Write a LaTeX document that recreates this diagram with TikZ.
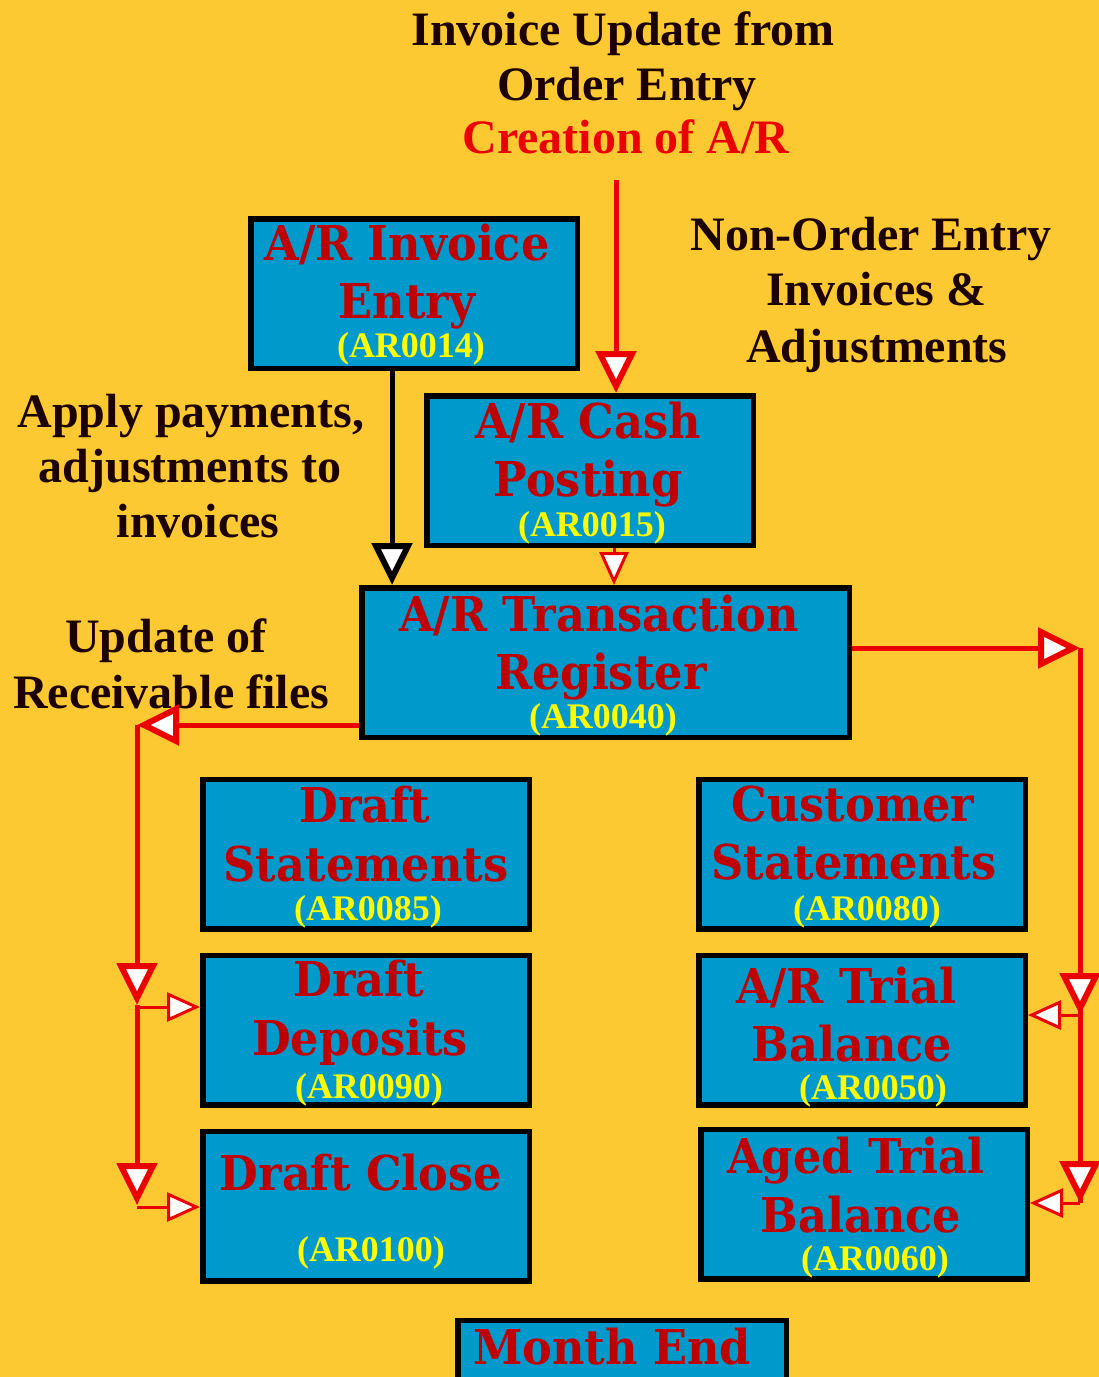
\documentclass[tikz,border=0pt]{standalone}
\usepackage{fontspec}
\setmainfont{Liberation Serif}
\newfontfamily\boxfont[FakeStretch=0.93]{DejaVu Serif}
\usetikzlibrary{arrows.meta}
\definecolor{bgyel}{RGB}{253,201,50}
\definecolor{boxblue}{RGB}{0,153,204}
\definecolor{titlered}{RGB}{190,0,0}
\definecolor{codeyel}{RGB}{255,255,0}
\definecolor{linered}{RGB}{235,0,0}
\definecolor{labelblk}{RGB}{28,0,0}
\tikzset{
  box/.style={draw=black, line width=5.5pt, fill=boxblue, rectangle, inner sep=0pt,
    minimum width=326.5pt, minimum height=149.5pt},
  ttl/.style={anchor=base, inner sep=0pt, text=titlered, font=\boxfont\bfseries\fontsize{48}{58}\selectfont},
  code/.style={anchor=base, inner sep=0pt, text=codeyel, font=\bfseries\fontsize{36}{40}\selectfont},
  lbl/.style={anchor=base, inner sep=0pt, text=labelblk, font=\bfseries\fontsize{48}{56}\selectfont},
  redlbl/.style={lbl, text=linered},
  bigred/.style={draw=linered, line width=5pt,
    -{Triangle[length=42pt, width=40pt, fill=white, line width=6pt]}},
  bigblack/.style={draw=black, line width=5pt,
    -{Triangle[length=42pt, width=40pt, fill=white, line width=6pt]}},
  smallred/.style={draw=linered, line width=3pt,
    -{Triangle[length=33pt, width=29pt, fill=white, line width=3pt]}},
  plainred/.style={draw=linered, line width=5pt},
}
\begin{document}
\begin{tikzpicture}[x=1pt,y=-1pt]
\useasboundingbox (0,0) rectangle (1099,1377);
\clip (0,0) rectangle (1099,1377);
\fill[bgyel] (0,0) rectangle (1099,1377);

% boxes
\node[box] (IE) at (414,293.5) {};
\node[box] (CP) at (590,470.5) {};
\node[box, minimum width=487.5pt] (TR) at (605.5,662.5) {};
\node[box] (DS) at (366,854) {};
\node[box] (CS) at (862,854) {};
\node[box] (DD) at (366,1030) {};
\node[box] (TB) at (862,1030) {};
\node[box] (DC) at (366,1206) {};
\node[box] (AT) at (864,1204) {};
\node[box, minimum width=328.5pt] (ME) at (622,1395) {};

% box texts
\node[ttl] (IE1) at (407,260) {A/R Invoice};
\node[ttl] (IE2) at (407,318) {Entry};
\node[code] (IE3) at (411,357) {(AR0014)};

\node[ttl] (CP1) at (588,438) {A/R Cash};
\node[ttl] (CP2) at (588,496) {Posting};
\node[code] (CP3) at (592,536) {(AR0015)};

\node[ttl] (TR1) at (599,631) {A/R Transaction};
\node[ttl] (TR2) at (601,689) {Register};
\node[code] (TR3) at (603,728) {(AR0040)};

\node[ttl] (DS1) at (365,822) {Draft};
\node[ttl] (DS2) at (366,881) {Statements};
\node[code] (DS3) at (368,920) {(AR0085)};

\node[ttl] (CS1) at (853,821) {Customer};
\node[ttl] (CS2) at (854,879) {Statements};
\node[code] (CS3) at (867,920) {(AR0080)};

\node[ttl] (DD1) at (359,996) {Draft};
\node[ttl] (DD2) at (360,1055) {Deposits};
\node[code] (DD3) at (369,1098) {(AR0090)};

\node[ttl] (TB1) at (846,1003) {A/R Trial};
\node[ttl] (TB2) at (852,1061) {Balance};
\node[code] (TB3) at (873,1099) {(AR0050)};

\node[ttl] (DC1) at (361,1190) {Draft Close};
\node[code] (DC2) at (371,1261) {(AR0100)};

\node[ttl] (AT1) at (856,1173) {Aged Trial};
\node[ttl] (AT2) at (861,1232) {Balance};
\node[code] (AT3) at (875,1270) {(AR0060)};

\node[ttl] (ME1) at (612,1364) {Month End};

% labels
\node[lbl] (L1) at (623,45) {Invoice Update from};
\node[lbl] (L2) at (627,100) {Order Entry};
\node[redlbl] (L3) at (626,153) {Creation of A/R};

\node[lbl] (N1) at (871,250) {Non-Order Entry};
\node[lbl] (N2) at (876,305) {Invoices \&};
\node[lbl] (N3) at (877,362) {Adjustments};

\node[lbl] (P1) at (191,427) {Apply payments,};
\node[lbl] (P2) at (190,482) {adjustments to};
\node[lbl] (P3) at (198,537) {invoices};

\node[lbl] (U1) at (166,652) {Update of};
\node[lbl] (U2) at (171,708) {Receivable files};

% connectors
\coordinate (src) at (616,180);
\coordinate (blk) at (392,0);
\coordinate (sm) at (614,0);
\coordinate (rt) at (1080,648);
\coordinate (r1) at (1080,1015);
\coordinate (r2) at (1080,1203);
\coordinate (lt) at (137,725);
\coordinate (l1) at (137,1005);
\coordinate (l2) at (137,1205);

\draw[bigred] (src) -- (src |- CP.north);
\draw[bigblack] (IE.south -| blk) -- (TR.north -| blk);
\draw[smallred] (CP.south -| sm) -- (TR.north -| sm);

\draw[bigred] (TR.east |- rt) -- (rt);
\draw[plainred] (rt) -- (r2);
\draw[bigred] (rt) -- (r1);
\draw[bigred] (r1) -- (r2);
\draw[smallred] (r1) -- (r1 -| TB.east);
\draw[smallred] (r2) -- (r2 -| AT.east);

\draw[bigred] (TR.west |- lt) -- (lt);
\draw[bigred] (lt) -- (l1);
\draw[bigred] (l1) -- (l2);
\draw[smallred] ([yshift=-2pt]l1) -- ([yshift=-2pt]l1 -| DD.west);
\draw[smallred] ([yshift=-2pt]l2) -- ([yshift=-2pt]l2 -| DC.west);
\end{tikzpicture}
\end{document}
